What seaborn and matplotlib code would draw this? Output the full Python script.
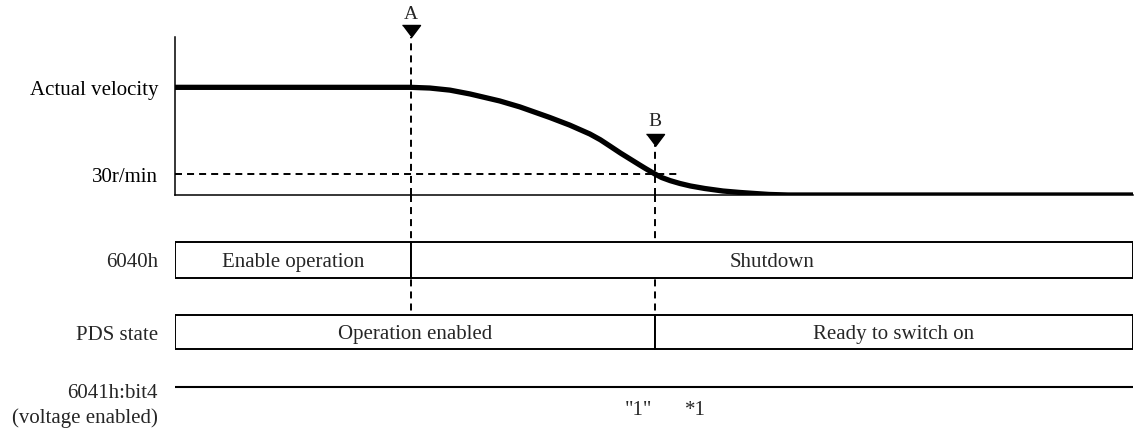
import matplotlib
matplotlib.use('Agg')
import matplotlib.pyplot as plt
import seaborn as sns
import pandas as pd

# velocity profile (time in % of window, velocity in r/min)
time_pts = [0, 24.6, 26.6, 28.7, 30.8, 33.9, 36.0, 39.1, 41.2, 43.3, 44.4, 45.4, 46.5,
            47.5, 48.5, 49.1, 50.1, 50.8, 51.7, 52.7, 53.8, 55.3, 57.2, 59.0, 60.8, 62.0, 64.0, 100]
vel_pts = [154, 154, 153, 150, 144.5, 134.5, 126, 111, 100, 87.3, 79, 70, 60,
           51.5, 43, 38, 30, 25, 20.5, 16.5, 12.9, 9.3, 5.7, 3.6, 1.9, 0.8, 0, 0]
velocity_label = 'Actual velocity'
threshold = 30
threshold_label = '30r/min'

# events
event_names = ['A', 'B']
event_times = [24.6, 50.1]

# state rows
cmd_states = ['Enable operation', 'Shutdown']
cmd_edges = [0, 24.6, 100]
pds_states = ['Operation enabled', 'Ready to switch on']
pds_edges = [0, 50.1, 100]
row_labels = ['6040h', 'PDS state', '6041h:bit4', '(voltage enabled)']
bit4_texts = ['"1"', '*1']
bit4_text_times = [48.4, 54.3]

sns.set_theme(style='white')
plt.rcParams['font.family'] = ['Liberation Serif', 'DejaVu Serif']
FS = 15

W, H = 1136, 435
fig = plt.figure(figsize=(W / 100, H / 100), dpi=100)
left, right = 175 / W, 1133 / W
ax_v = fig.add_axes([left, (H - 196) / H, right - left, 158 / H])
ax_s = fig.add_axes([left, 0, right - left, (H - 196) / H])

dash = (0, (3.6, 2.6))

# --- velocity panel
df = pd.DataFrame({'t': time_pts, 'v': vel_pts})
sns.lineplot(data=df, x='t', y='v', ax=ax_v, color='black', lw=3.8, sort=False, zorder=4)
ax_v.set_xlim(0, 100)
ax_v.set_ylim(0, 226)
ax_v.hlines(threshold, 0, 52.7, colors='black', lw=1.4, linestyles=dash)
for sp in ['top', 'right']:
    ax_v.spines[sp].set_visible(False)
for sp in ['left', 'bottom']:
    ax_v.spines[sp].set_color('black')
    ax_v.spines[sp].set_linewidth(1.1)
ax_v.set_xticks([])
ax_v.set_yticks([vel_pts[0], threshold], [velocity_label, threshold_label], fontsize=FS)
ax_v.tick_params(axis='y', length=0, pad=12, colors='black')
ax_v.set_xlabel('')
ax_v.set_ylabel('')

# event markers
marker_levels = [234, 79]
label_levels = [259, 106]
tri = [(-9, 6), (9, 6), (0, -6)]
for name, t, ml, ll in zip(event_names, event_times, marker_levels, label_levels):
    ax_v.plot([t], [ml], marker=tri, ms=13, color='black', clip_on=False, zorder=5)
    ax_v.vlines(t, 0, ml - 8, colors='black', lw=1.4, linestyles=dash, clip_on=False)
    ax_v.text(t, ll, name, ha='center', va='center', fontsize=14, clip_on=False)

# --- state panel (y in px below baseline)
ax_s.set_xlim(0, 100)
ax_s.set_ylim(239, 0)
ax_s.axis('off')

cmd_top, cmd_h = 47, 36
pds_top, pds_h = 120, 34
bit4_y = 192

for t in event_times:
    ax_s.vlines(t, 0, pds_top, colors='black', lw=1.4, linestyles=dash, zorder=1)

for states, edges, top, h in [(cmd_states, cmd_edges, cmd_top, cmd_h),
                              (pds_states, pds_edges, pds_top, pds_h)]:
    spans = [(edges[i], edges[i + 1] - edges[i]) for i in range(len(states))]
    ax_s.broken_barh(spans, (top, h), facecolors='white', edgecolors='black', lw=1.4, zorder=3)
    for i, s in enumerate(states):
        ax_s.text((edges[i] + edges[i + 1]) / 2, top + h / 2 + 6, s, ha='center',
                  va='baseline', fontsize=FS, zorder=4)

ax_s.hlines(bit4_y, 0, 100, colors='black', lw=1.5)
for txt, t in zip(bit4_texts, bit4_text_times):
    ax_s.text(t, 219, txt, ha='center', va='baseline', fontsize=FS)

# row labels at left (baselines)
label_y = [71, 144.5, 202, 227]
for lab, y in zip(row_labels, label_y):
    ax_s.text(-17 / 9.58, y, lab, ha='right', va='baseline', fontsize=FS, clip_on=False)

fig.savefig('out.png', dpi=100)
